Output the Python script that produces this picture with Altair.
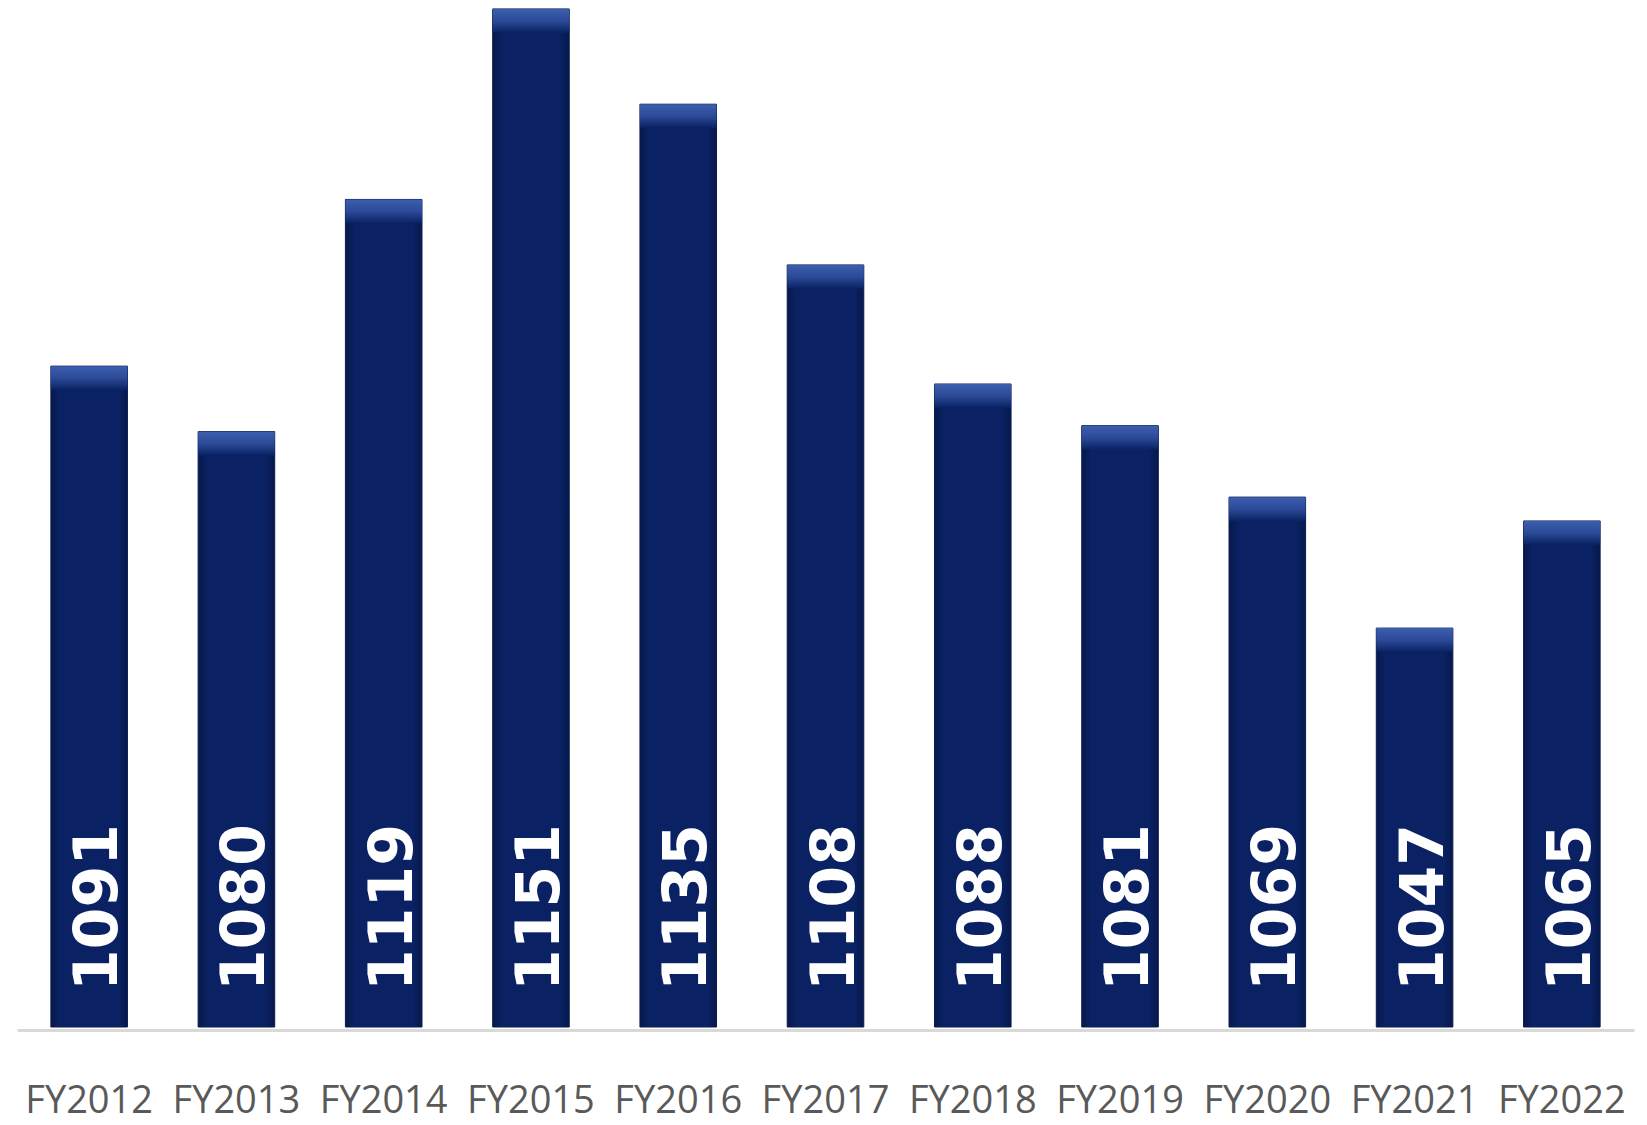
import altair as alt
import pandas as pd

years = ["FY2012", "FY2013", "FY2014", "FY2015", "FY2016", "FY2017",
         "FY2018", "FY2019", "FY2020", "FY2021", "FY2022"]
values = [1091, 1080, 1119, 1151, 1135, 1108, 1088, 1081, 1069, 1047, 1065]

df = pd.DataFrame({"year": years, "value": values})
base_value = 980

x_enc = alt.X("year:N", sort=years,
              scale=alt.Scale(paddingInner=0.48, paddingOuter=0.23),
              axis=alt.Axis(title=None, ticks=False, labelAngle=0,
                            labelFont="Open Sans", labelFontSize=38,
                            labelColor="#595959", labelPadding=52,
                            domainColor="#d9d9d9", domainWidth=3, offset=3,
                            grid=False))
y_scale = alt.Scale(domain=[base_value, 1152.5], zero=False, nice=False)

base = alt.Chart(df).transform_calculate(base=str(base_value), bevel="datum.value - 4")

bars = base.mark_bar(
    color=alt.Gradient(gradient="linear", x1=0, x2=1, y1=0, y2=0,
                       stops=[alt.GradientStop(offset=0, color="#07184a"),
                              alt.GradientStop(offset=0.12, color="#0a2263"),
                              alt.GradientStop(offset=0.88, color="#0a2263"),
                              alt.GradientStop(offset=1, color="#07184a")]),
    stroke="#091c52", strokeWidth=1
).encode(
    x=x_enc,
    y=alt.Y("value:Q", scale=y_scale, axis=None),
    y2="base:Q",
)

bevel = base.mark_bar(
    color=alt.Gradient(gradient="linear", x1=0, x2=0, y1=0, y2=1,
                       stops=[alt.GradientStop(offset=0, color="#3d5eae"),
                              alt.GradientStop(offset=0.5, color="#2c4a98"),
                              alt.GradientStop(offset=1, color="#0a2263")])
).encode(
    x=alt.X("year:N", sort=years),
    y=alt.Y("value:Q", scale=y_scale, axis=None),
    y2="bevel:Q",
)

labels = base.mark_text(
    angle=270, align="left", baseline="middle", dx=36, dy=10,
    font="DejaVu Sans", fontWeight="bold", fontSize=60, color="white"
).encode(
    x=alt.X("year:N", sort=years),
    y=alt.Y("base:Q", scale=y_scale, axis=None),
    text="value:N",
)

chart = alt.layer(bars, bevel, labels).properties(
    width=1617, height=1027,
    background="white",
    autosize=alt.AutoSizeParams(type="none"),
    padding={"left": 17, "top": 0, "right": 13, "bottom": 98},
).configure_view(strokeWidth=0, stroke="transparent")

chart.save("out.html", embed_options={"renderer": "svg", "actions": False})
